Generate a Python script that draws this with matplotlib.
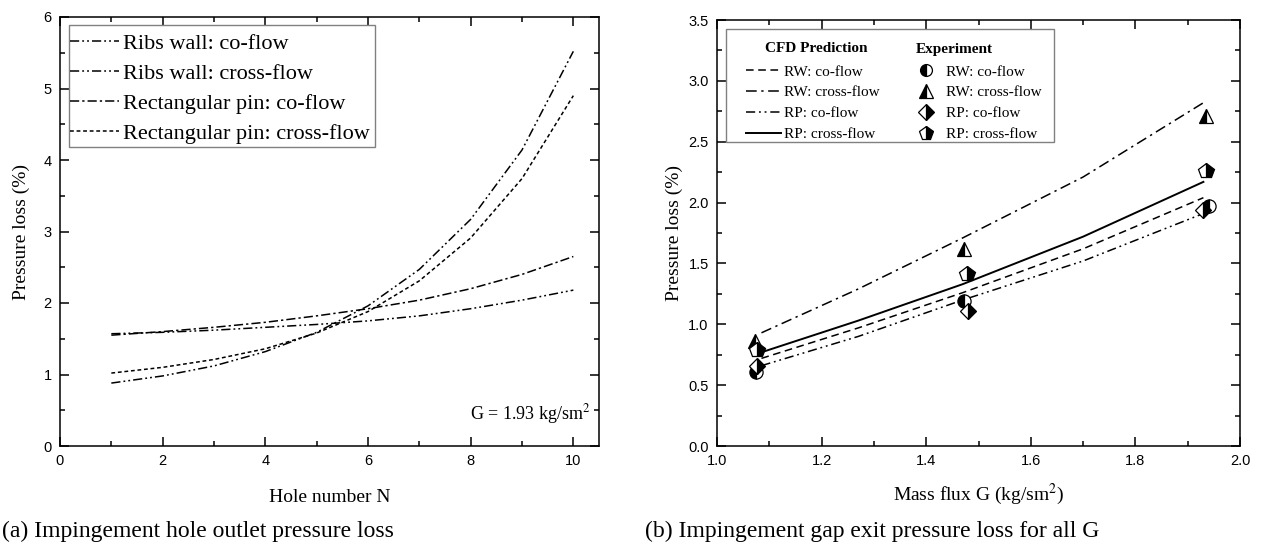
import matplotlib
matplotlib.use("Agg")
import matplotlib.pyplot as plt
from matplotlib.lines import Line2D
from matplotlib.patches import Rectangle
from matplotlib.ticker import MultipleLocator, FormatStrFormatter

plt.rcParams['font.family'] = ['Liberation Serif', 'DejaVu Serif']
plt.rcParams['mathtext.fontset'] = 'stix'

# ---------------- data: (a) ----------------
hole_n = [1, 2, 3, 4, 5, 6, 7, 8, 9, 10]
rw_co_a = [0.88, 0.98, 1.12, 1.32, 1.59, 1.96, 2.47, 3.17, 4.14, 5.52]
rw_cross_a = [1.57, 1.59, 1.62, 1.66, 1.70, 1.75, 1.82, 1.92, 2.04, 2.18]
rp_co_a = [1.55, 1.60, 1.66, 1.73, 1.82, 1.92, 2.04, 2.20, 2.40, 2.65]
rp_cross_a = [1.02, 1.10, 1.21, 1.36, 1.58, 1.88, 2.31, 2.91, 3.74, 4.90]
labels_a = ['Ribs wall: co-flow', 'Ribs wall: cross-flow',
            'Rectangular pin: co-flow', 'Rectangular pin: cross-flow']

# ---------------- data: (b) ----------------
g_cfd = [1.085, 1.27, 1.47, 1.70, 1.93]
rw_co_cfd = [0.72, 0.97, 1.26, 1.62, 2.04]
rw_cross_cfd = [0.93, 1.29, 1.71, 2.21, 2.82]
rp_co_cfd = [0.66, 0.90, 1.20, 1.52, 1.91]
rp_cross_cfd = [0.77, 1.03, 1.33, 1.72, 2.17]

g_rw_co_exp = [1.075, 1.472, 1.94]
rw_co_exp = [0.61, 1.19, 1.97]
g_rw_cross_exp = [1.073, 1.472, 1.935]
rw_cross_exp = [0.86, 1.62, 2.71]
g_rp_co_exp = [1.077, 1.48, 1.93]
rp_co_exp = [0.66, 1.11, 1.94]
g_rp_cross_exp = [1.077, 1.478, 1.935]
rp_cross_exp = [0.79, 1.41, 2.26]

labels_b = ['RW: co-flow', 'RW: cross-flow', 'RP: co-flow', 'RP: cross-flow']
headers_b = ['CFD Prediction', 'Experiment']

W, H = 1261, 550
fig = plt.figure(figsize=(W / 100, H / 100), dpi=100)

def px_axes(x0, y0, x1, y1):
    return fig.add_axes([x0 / W, 1 - y1 / H, (x1 - x0) / W, (y1 - y0) / H])

AX1 = (60, 17, 599, 446)
AX2 = (717, 20, 1240, 446)
ax1 = px_axes(*AX1)
ax2 = px_axes(*AX2)

def to_ax(box, px, py):
    x0, y0, x1, y1 = box
    return (px - x0) / (x1 - x0), (y1 - py) / (y1 - y0)

def frame(ax, box, x0, y0, x1, y1):
    ax0, ay1 = to_ax(box, x0, y0)
    ax1_, ay0 = to_ax(box, x1, y1)
    ax.add_patch(Rectangle((ax0, ay0), ax1_ - ax0, ay1 - ay0, transform=ax.transAxes,
                           facecolor='white', edgecolor='#808080', lw=1.0, zorder=4))

dash_dd = (0, (6, 2, 1.2, 2, 1.2, 2))
dash_d = (0, (6, 2, 1.5, 2))
dash_short = (0, (2.5, 1.8))

lw = 1.1
ax1.plot(hole_n, rw_co_a, color='black', lw=lw, ls=dash_dd, label=labels_a[0])
ax1.plot(hole_n, rw_cross_a, color='black', lw=lw, ls=dash_dd, label=labels_a[1])
ax1.plot(hole_n, rp_co_a, color='black', lw=lw, ls=dash_d, label=labels_a[2])
ax1.plot(hole_n, rp_cross_a, color='black', lw=lw, ls=dash_short, label=labels_a[3])

ax1.set_xlim(0, 10.5)
ax1.set_ylim(0, 6)
ax1.xaxis.set_major_locator(MultipleLocator(2))
ax1.xaxis.set_minor_locator(MultipleLocator(1))
ax1.yaxis.set_major_locator(MultipleLocator(1))
ax1.yaxis.set_minor_locator(MultipleLocator(0.5))
ax1.set_xlabel('Hole number N', fontsize=14, labelpad=15)
ax1.set_ylabel('Pressure loss (%)', fontsize=14, labelpad=10)

frame(ax1, AX1, 69, 25, 375, 147)
lx, ly = to_ax(AX1, 70, 33)
leg1 = ax1.legend(loc='upper left', bbox_to_anchor=(lx, ly), borderaxespad=0,
                  fontsize=16, handlelength=2.2, handletextpad=0.2, labelspacing=0.43,
                  borderpad=0, frameon=False)
leg1.set_zorder(6)
ax1.text(0.985, 0.075, r'G = 1.93 kg/sm$^2$', transform=ax1.transAxes,
         ha='right', va='center', fontsize=13)

# ---- (b) ----
ls_b = [(0, (5, 3)), (0, (7, 3, 1.5, 3)), (0, (6, 2.5, 1.2, 2.5, 1.2, 2.5)), '-']
lw_b = [lw, lw, lw, 1.4]
ax2.plot(g_cfd, rw_co_cfd, color='black', lw=lw_b[0], ls=ls_b[0])
ax2.plot(g_cfd, rw_cross_cfd, color='black', lw=lw_b[1], ls=ls_b[1])
ax2.plot(g_cfd, rp_co_cfd, color='black', lw=lw_b[2], ls=ls_b[2])
ax2.plot(g_cfd, rp_cross_cfd, color='black', lw=lw_b[3], ls=ls_b[3])

mk = dict(color='black', ls='none', markeredgecolor='black', markerfacecolor='black',
          markerfacecoloralt='white', markeredgewidth=0.9)
mstyles = [('o', 9.5, 'left'), ('^', 10.5, 'left'), ('D', 8.5, 'right'), ('p', 11.5, 'right')]
exp_sets = [(g_rw_co_exp, rw_co_exp), (g_rw_cross_exp, rw_cross_exp),
            (g_rp_co_exp, rp_co_exp), (g_rp_cross_exp, rp_cross_exp)]
for (m, s, f), (gx, gy) in zip(mstyles, exp_sets):
    ax2.plot(gx, gy, marker=m, ms=s, fillstyle=f, zorder=5, **mk)

ax2.set_xlim(1.0, 2.0)
ax2.set_ylim(0, 3.5)
ax2.xaxis.set_major_locator(MultipleLocator(0.2))
ax2.xaxis.set_minor_locator(MultipleLocator(0.1))
ax2.yaxis.set_major_locator(MultipleLocator(0.5))
ax2.yaxis.set_minor_locator(MultipleLocator(0.25))
ax2.xaxis.set_major_formatter(FormatStrFormatter('%.1f'))
ax2.yaxis.set_major_formatter(FormatStrFormatter('%.1f'))
ax2.set_xlabel(r'Mass flux G (kg/sm$^2$)', fontsize=14, labelpad=10)
ax2.set_ylabel('Pressure loss (%)', fontsize=14, labelpad=4)

frame(ax2, AX2, 726, 29, 1054, 142)
blank = Line2D([], [], ls='none')
h_lines = [Line2D([], [], color='black', lw=w, ls=s) for s, w in zip(ls_b, lw_b)]
h_marks = [Line2D([], [], marker=m, ms=s * 0.9, fillstyle=f, **mk) for m, s, f in mstyles]
handles = [blank] + h_lines + [blank] + h_marks
labels = ['X'] + labels_b + ['X'] + labels_b
lx, ly = to_ax(AX2, 746, 41)
leg2 = ax2.legend(handles, labels, ncol=2, loc='upper left', bbox_to_anchor=(lx, ly),
                  borderaxespad=0, fontsize=11, handlelength=2.3, handletextpad=0.2,
                  labelspacing=0.46, columnspacing=1.85, borderpad=0, frameon=False)
leg2.set_zorder(6)
texts = leg2.get_texts()
for i in (0, 5):
    texts[i].set_fontsize(13)
    texts[i].set_alpha(0)
for name, px in zip(headers_b, (765, 916)):
    tx, ty = to_ax(AX2, px, 49)
    ax2.text(tx, ty, name, transform=ax2.transAxes, ha='left', va='center',
             fontsize=11, fontweight='bold', zorder=10)

for ax in (ax1, ax2):
    ax.tick_params(which='both', direction='in', top=True, right=True,
                   labelfontfamily='Liberation Sans', labelsize=10.5, pad=6, width=1.1)
    ax.tick_params(which='major', length=6.5)
    ax.tick_params(which='minor', length=3.5)
    for s in ax.spines.values():
        s.set_linewidth(1.1)
        s.set_zorder(7)

fig.text(2 / W, 1 - 531 / H, '(a) Impingement hole outlet pressure loss', fontsize=17,
         ha='left', va='center')
fig.text(645 / W, 1 - 531 / H, '(b) Impingement gap exit pressure loss for all G', fontsize=17,
         ha='left', va='center')

fig.savefig('out.png', dpi=100)
